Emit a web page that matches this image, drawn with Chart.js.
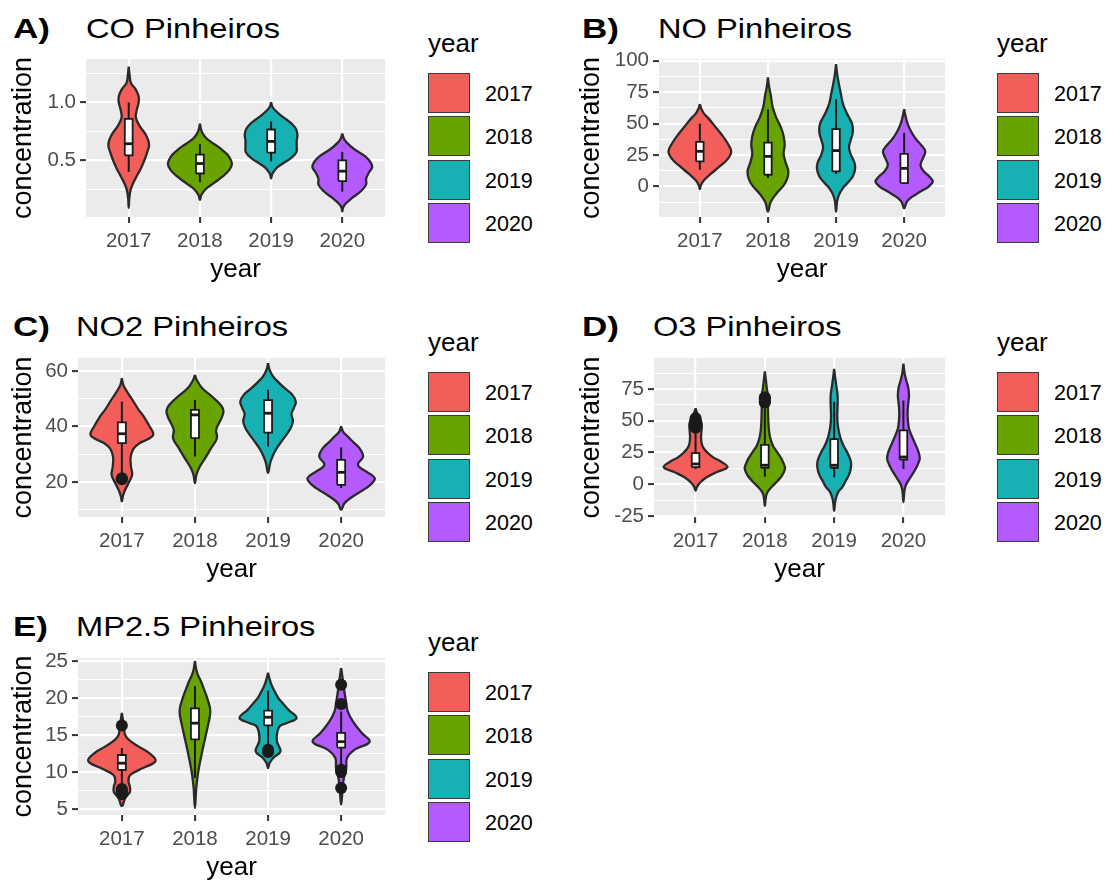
<!DOCTYPE html>
<html>
<head>
<meta charset="utf-8">
<title>Pinheiros violin plots</title>
<script src="https://cdn.jsdelivr.net/npm/chart.js@4.4.1/dist/chart.umd.min.js"></script>
<style>
html,body{margin:0;padding:0;background:#fff;}
body{width:1105px;height:881px;position:relative;overflow:hidden;font-family:"Liberation Sans",Arial,Helvetica,sans-serif;color:#000;}
canvas{position:absolute;}
.txt{position:absolute;white-space:nowrap;line-height:1;}
.tag{font-weight:bold;font-size:28px;transform:scaleX(1.25);transform-origin:0 0;}
.ttl{font-size:28px;transform:scaleX(1.165);transform-origin:0 0;}
.lgt{font-size:26px;}
.lgl{font-size:21.5px;}
.key{position:absolute;width:42px;height:40px;box-sizing:border-box;border:1.5px solid #3a3a3a;}
</style>
</head>
<body>
<script>
// ---------------- categories & palette ----------------
const years = ['2017', '2018', '2019', '2020'];
const yearColors = ['#F35E5A', '#69A300', '#17B1B4', '#B45BFF'];

// ---------------- A) CO ----------------
// violin profiles: [value, half-width in category units], top tip -> bottom tip
const coViolin2017 = [[1.31,0],[1.24,0.012],[1.17,0.03],[1.11,0.10],[1.05,0.14],[1.0,0.14],[0.94,0.115],[0.87,0.10],[0.80,0.15],[0.72,0.24],[0.64,0.286],[0.57,0.26],[0.50,0.22],[0.43,0.17],[0.36,0.11],[0.30,0.06],[0.24,0.025],[0.17,0.008],[0.09,0]];
const coViolin2018 = [[0.815,0],[0.77,0.015],[0.73,0.04],[0.69,0.09],[0.657,0.16],[0.62,0.25],[0.586,0.32],[0.53,0.41],[0.47,0.45],[0.415,0.41],[0.36,0.32],[0.30,0.19],[0.25,0.08],[0.20,0.02],[0.158,0]];
const coViolin2019 = [[1.0,0],[0.96,0.02],[0.93,0.06],[0.886,0.14],[0.85,0.22],[0.815,0.29],[0.77,0.35],[0.72,0.37],[0.67,0.36],[0.62,0.36],[0.57,0.355],[0.515,0.27],[0.47,0.16],[0.44,0.09],[0.41,0.045],[0.38,0.015],[0.343,0]];
const coViolin2020 = [[0.73,0],[0.69,0.02],[0.657,0.056],[0.60,0.16],[0.53,0.33],[0.48,0.40],[0.44,0.42],[0.39,0.37],[0.34,0.335],[0.29,0.335],[0.23,0.256],[0.17,0.13],[0.12,0.04],[0.09,0.01],[0.058,0]];
// boxes: [lower whisker, Q1, median, Q3, upper whisker]
const coBoxes = [[0.40,0.543,0.643,0.857,1.0],[0.31,0.386,0.472,0.549,0.64],[0.49,0.566,0.663,0.766,0.835],[0.229,0.32,0.406,0.50,0.572]];
const coOutliers = [[],[],[],[]];
const coTicks = [0.5, 1.0];
const coTickLabels = ['0.5', '1.0'];

// ---------------- B) NO ----------------
const noViolin2017 = [[65.5,0],[62,0.02],[58,0.06],[54,0.13],[48,0.22],[42,0.31],[35,0.40],[28,0.46],[22,0.41],[16,0.29],[10,0.16],[5,0.06],[1,0.015],[-2,0]];
const noViolin2018 = [[86.7,0],[80,0.015],[73,0.04],[63,0.07],[55,0.12],[47,0.19],[40,0.23],[33,0.245],[26,0.23],[19,0.26],[12,0.30],[6,0.28],[1,0.23],[-4,0.15],[-8,0.09],[-13,0.035],[-20,0]];
const noViolin2019 = [[97.4,0],[90,0.015],[82,0.04],[74,0.07],[66,0.10],[58,0.16],[50,0.235],[43,0.245],[36,0.21],[31,0.19],[25,0.22],[19,0.27],[14,0.28],[8,0.245],[3,0.17],[-2,0.09],[-7,0.04],[-12,0.015],[-20,0]];
const noViolin2020 = [[61.4,0],[56,0.02],[50,0.05],[44,0.1],[38,0.17],[33,0.25],[28,0.31],[23,0.28],[17,0.24],[12,0.29],[8,0.37],[4,0.42],[0,0.36],[-4,0.24],[-8,0.12],[-12,0.04],[-17.3,0]];
const noBoxes = [[13.4,20,28,35.5,50],[6.7,9.4,24,35,61.4],[10,12,28.6,45.6,69.4],[2.5,2.8,14.5,26,42.7]];
const noOutliers = [[],[],[],[]];
const noTicks = [0, 25, 50, 75, 100];
const noTickLabels = ['0', '25', '50', '75', '100'];

// ---------------- C) NO2 ----------------
const no2Violin2017 = [[57.4,0],[55,0.02],[52.6,0.07],[49,0.16],[46,0.23],[43.6,0.30],[40,0.38],[37.2,0.43],[35.5,0.36],[34,0.24],[32,0.16],[29,0.12],[25.5,0.125],[22.6,0.14],[19.6,0.09],[17.2,0.045],[15,0.015],[13,0]];
const no2Violin2018 = [[58.6,0],[56.5,0.03],[53.8,0.10],[50.2,0.26],[47.5,0.36],[45.5,0.39],[43.5,0.37],[41.8,0.34],[38.8,0.29],[35.8,0.30],[32.2,0.22],[28.6,0.14],[25,0.055],[22.6,0.02],[19.6,0]];
const no2Violin2019 = [[62.8,0],[60.5,0.02],[58,0.07],[56,0.14],[54,0.22],[51.5,0.33],[49,0.38],[46.5,0.35],[44.5,0.32],[42,0.34],[39.5,0.31],[37,0.25],[34.5,0.18],[32,0.115],[29.5,0.065],[27,0.03],[23.2,0]];
const no2Violin2020 = [[40,0],[38,0.03],[36.4,0.09],[34,0.18],[32.2,0.25],[29.2,0.30],[26.2,0.23],[23.5,0.36],[21.4,0.46],[19.5,0.42],[17.8,0.34],[14.8,0.16],[12.4,0.046],[10,0]];
const no2Boxes = [[23,34,37.4,41.5,49],[29.2,35.8,44.2,46,49.6],[32.8,37.8,44.8,49.5,53.3],[17.8,19,23.5,28,32.5]];
const no2Outliers = [[21.0,21.4],[],[],[]];
const no2Ticks = [20, 40, 60];
const no2TickLabels = ['20', '40', '60'];

// ---------------- D) O3 ----------------
const o3Violin2017 = [[59.8,0],[55,0.03],[51,0.07],[47,0.09],[42,0.085],[36,0.08],[30,0.10],[25,0.17],[21,0.26],[17.4,0.38],[13.5,0.46],[9.5,0.30],[5.5,0.16],[1.6,0.07],[-2,0.02],[-5,0]];
const o3Violin2018 = [[88.9,0],[82,0.015],[75,0.03],[68,0.05],[60,0.045],[50,0.05],[42,0.06],[36,0.08],[30,0.12],[26,0.17],[20,0.24],[15,0.28],[12,0.29],[7,0.25],[3,0.19],[-2,0.10],[-6,0.04],[-10,0.015],[-17,0]];
const o3Violin2019 = [[91,0],[84,0.015],[78,0.03],[70,0.05],[62,0.05],[55,0.045],[48,0.05],[41,0.07],[35,0.10],[30,0.14],[25,0.19],[20,0.23],[16,0.245],[11,0.235],[7,0.21],[2,0.16],[-2,0.12],[-6,0.06],[-11,0.025],[-16,0.01],[-21,0]];
const o3Violin2020 = [[95,0],[88,0.015],[82,0.04],[76,0.07],[70,0.08],[64,0.07],[57,0.06],[50,0.065],[44,0.08],[38,0.12],[33,0.16],[28,0.20],[24,0.225],[20,0.235],[16,0.21],[12,0.175],[8,0.13],[4,0.085],[0,0.04],[-5,0.015],[-14,0]];
const o3Boxes = [[12,13.5,16,24.5,44],[6,13,15,31,64],[5.5,13,15,35.5,65],[12,19.5,21.5,42.5,66]];
const o3Outliers = [[44.5,45.5,46.5,47.5,48.5,50,52],[64.5,65.5,66.5,67.5,68.5],[],[]];
const o3Ticks = [-25, 0, 25, 50, 75];
const o3TickLabels = ['-25', '0', '25', '50', '75'];

// ---------------- E) MP2.5 ----------------
const mpViolin2017 = [[18,0],[17,0.015],[16,0.03],[15,0.045],[14.3,0.10],[13.5,0.22],[12.6,0.37],[11.5,0.46],[10.5,0.28],[9.6,0.115],[8.8,0.09],[8.0,0.11],[7.3,0.11],[6.6,0.05],[5.4,0]];
const mpViolin2018 = [[25,0],[24,0.015],[23.2,0.037],[22.3,0.08],[21.4,0.115],[19.6,0.18],[18.2,0.21],[16.4,0.18],[14.6,0.14],[12.35,0.09],[10.1,0.046],[7.85,0.018],[5.15,0]];
const mpViolin2019 = [[23.4,0],[22.6,0.02],[21.8,0.046],[20.9,0.09],[20,0.14],[19.2,0.21],[18.4,0.28],[17.3,0.39],[16.6,0.25],[16.2,0.16],[15.3,0.125],[14.15,0.12],[12.8,0.17],[11.9,0.07],[11.2,0.02],[10.55,0]];
const mpViolin2020 = [[24.05,0],[22,0.03],[20.5,0.05],[19.3,0.07],[18.2,0.09],[16.85,0.16],[15.3,0.28],[14.1,0.39],[13,0.18],[11.9,0.08],[10.55,0.07],[9.2,0.037],[7.85,0.02],[5.6,0]];
const mpBoxes = [[8.3,10.3,11.2,12.3,13.25],[9.2,14.4,16.6,18.6,21.6],[13.3,16.3,17.4,18.3,21.0],[10.6,13.3,14.1,15.3,18.2]];
const mpOutliers = [[16.3,7.0,7.4,7.7],[],[12.7,13.0],[21.8,19.2,10.0,10.3,7.85]];
const mpTicks = [5, 10, 15, 20, 25];
const mpTickLabels = ['5', '10', '15', '20', '25'];

// ---------------- panel setup (layout only) ----------------
const panels = [
  {tag:'A)', title:'CO Pinheiros', violins:[coViolin2017,coViolin2018,coViolin2019,coViolin2020], boxes:coBoxes, outliers:coOutliers, ticks:coTicks, tickLabels:coTickLabels, yMin:0.01, yMax:1.375,
   L:{left:0, top:50, width:400, height:237, axisW:86, padTop:9, padRight:15, tagLeft:13, titleLeft:85.5, baseline:38.3, legLeft:428, legDy:0}},
  {tag:'B)', title:'NO Pinheiros', violins:[noViolin2017,noViolin2018,noViolin2019,noViolin2020], boxes:noBoxes, outliers:noOutliers, ticks:noTicks, tickLabels:noTickLabels, yMin:-24.2, yMax:101.4,
   L:{left:568, top:50, width:392, height:237, axisW:91, padTop:9, padRight:15, tagLeft:582, titleLeft:657.5, baseline:38.3, legLeft:997, legDy:0}},
  {tag:'C)', title:'NO2 Pinheiros', violins:[no2Violin2017,no2Violin2018,no2Violin2019,no2Violin2020], boxes:no2Boxes, outliers:no2Outliers, ticks:no2Ticks, tickLabels:no2TickLabels, yMin:7.4, yMax:64.7,
   L:{left:0, top:350, width:400, height:237, axisW:78, padTop:8, padRight:15, tagLeft:13, titleLeft:76, baseline:336.7, legLeft:428, legDy:299}},
  {tag:'D)', title:'O3 Pinheiros', violins:[o3Violin2017,o3Violin2018,o3Violin2019,o3Violin2020], boxes:o3Boxes, outliers:o3Outliers, ticks:o3Ticks, tickLabels:o3TickLabels, yMin:-25.8, yMax:99.5,
   L:{left:568, top:350, width:392, height:237, axisW:86, padTop:8, padRight:15, tagLeft:582, titleLeft:653, baseline:336.7, legLeft:997, legDy:299}},
  {tag:'E)', title:'MP2.5 Pinheiros', violins:[mpViolin2017,mpViolin2018,mpViolin2019,mpViolin2020], boxes:mpBoxes, outliers:mpOutliers, ticks:mpTicks, tickLabels:mpTickLabels, yMin:4.2, yMax:25.4,
   L:{left:0, top:650, width:400, height:235, axisW:78, padTop:8, padRight:15, tagLeft:13, titleLeft:76, baseline:636.7, legLeft:428, legDy:599}}
];

const FONT = '"Liberation Sans", Arial, Helvetica, sans-serif';
Chart.defaults.font.family = FONT;
const ASC = 0.8465; // baseline offset for line-height:1

const panelBg = {
  id: 'panelBg',
  beforeDraw(chart) {
    const a = chart.chartArea, ctx = chart.ctx;
    ctx.save();
    ctx.fillStyle = '#EBEBEB';
    ctx.fillRect(a.left, a.top, a.right - a.left, a.bottom - a.top);
    ctx.restore();
  }
};

function addText(cls, text, left, baseline, size) {
  const d = document.createElement('div');
  d.className = 'txt ' + cls;
  d.textContent = text;
  d.style.left = left + 'px';
  d.style.top = (baseline - ASC * size) + 'px';
  document.body.appendChild(d);
  return d;
}

function minorBreaks(ticks, min, max) {
  const step = ticks[1] - ticks[0];
  const out = [];
  for (let k = -1; k < ticks.length; k++) {
    const v = ticks[0] + (k + 0.5) * step;
    if (v > min && v < max) out.push(v);
  }
  return out;
}

function buildPanel(p) {
  const L = p.L;
  // titles
  addText('tag', p.tag, L.tagLeft, L.baseline, 28);
  addText('ttl', p.title, L.titleLeft, L.baseline, 28);
  // legend
  addText('lgt', 'year', L.legLeft, 51.8 + L.legDy, 26);
  years.forEach((yr, i) => {
    const k = document.createElement('div');
    k.className = 'key';
    k.style.left = L.legLeft + 'px';
    k.style.top = (72.7 + L.legDy + i * 43.5) + 'px';
    k.style.background = yearColors[i];
    document.body.appendChild(k);
    addText('lgl', yr, L.legLeft + 57, 101.7 + L.legDy + i * 43.5, 21.5);
  });

  // canvas
  const cv = document.createElement('canvas');
  cv.width = L.width; cv.height = L.height;
  cv.style.left = L.left + 'px'; cv.style.top = L.top + 'px';
  cv.style.width = L.width + 'px'; cv.style.height = L.height + 'px';
  document.body.appendChild(cv);

  const datasets = [];
  const boxHalf = 0.055;
  p.violins.forEach((prof, i) => {
    const c = i + 1;
    const right = prof.map(([v, w]) => ({x: c + w, y: v}));
    const left = prof.slice(0, -1).reverse().map(([v, w]) => ({x: c - w, y: v}));
    datasets.push({label: years[i], data: right.concat(left), showLine: true, fill: 'shape',
      backgroundColor: yearColors[i], borderColor: '#2a2a2a', borderWidth: 2.3,
      pointRadius: 0, pointHoverRadius: 0, tension: 0.4, order: 10});
  });
  p.boxes.forEach((b, i) => {
    const c = i + 1;
    const [lo, q1, med, q3, hi] = b;
    datasets.push({data: [{x: c, y: lo}, {x: c, y: hi}], showLine: true, borderColor: '#1a1a1a',
      borderWidth: 2, pointRadius: 0, pointHoverRadius: 0, order: 8});
    datasets.push({data: [{x: c - boxHalf, y: q1}, {x: c + boxHalf, y: q1}, {x: c + boxHalf, y: q3}, {x: c - boxHalf, y: q3}, {x: c - boxHalf, y: q1}],
      showLine: true, fill: 'shape', backgroundColor: '#FFFFFF', borderColor: '#1a1a1a', borderWidth: 1.8,
      pointRadius: 0, pointHoverRadius: 0, tension: 0, order: 6});
    datasets.push({data: [{x: c - boxHalf, y: med}, {x: c + boxHalf, y: med}], showLine: true,
      borderColor: '#1a1a1a', borderWidth: 2.8, pointRadius: 0, pointHoverRadius: 0, order: 4});
  });
  p.outliers.forEach((arr, i) => {
    if (!arr.length) return;
    datasets.push({data: arr.map(v => ({x: i + 1, y: v})), showLine: false, pointRadius: 6,
      pointBackgroundColor: '#1a1a1a', pointBorderWidth: 0, order: 2});
  });

  const major = new Set(p.ticks);
  const allY = minorBreaks(p.ticks, p.yMin, p.yMax).concat(p.ticks).sort((a, b) => a - b);
  const isMajor = c => !!(c.tick && major.has(c.tick.value));

  new Chart(cv, {
    type: 'scatter',
    data: {datasets},
    plugins: [panelBg],
    options: {
      responsive: false, animation: false, devicePixelRatio: 1, events: [],
      layout: {padding: {left: 0, top: L.padTop, right: L.padRight, bottom: 0}},
      plugins: {legend: {display: false}, tooltip: {enabled: false}, title: {display: false}},
      scales: {
        x: {
          type: 'linear', min: 0.4, max: 4.6, bounds: 'data',
          afterBuildTicks: s => { s.ticks = years.map((_, i) => ({value: i + 1})); },
          afterFit: s => { s.height = 70; s.paddingLeft = 0; s.paddingRight = 0; },
          ticks: {autoSkip: false, maxRotation: 0, minRotation: 0, padding: 6, color: '#4D4D4D',
            font: {size: 20.5}, callback: v => years[Math.round(v) - 1] || ''},
          grid: {color: '#FFFFFF', lineWidth: 2.2, drawTicks: true, tickLength: 6, tickColor: '#333333', tickWidth: 2},
          border: {display: false},
          title: {display: true, text: 'year', color: '#000', font: {size: 26}, padding: {top: 0, bottom: 2}}
        },
        y: {
          type: 'linear', min: p.yMin, max: p.yMax, bounds: 'data',
          afterBuildTicks: s => { s.ticks = allY.map(v => ({value: v})); },
          afterFit: s => { s.width = L.axisW; s.paddingTop = 0; s.paddingBottom = 0; },
          ticks: {autoSkip: false, padding: 4, color: '#4D4D4D', font: {size: 20.5},
            callback: v => { const k = p.ticks.indexOf(v); return k >= 0 ? p.tickLabels[k] : ''; }},
          grid: {color: '#FFFFFF', lineWidth: c => isMajor(c) ? 2.2 : 1.1, drawTicks: true, tickLength: 6,
            tickColor: c => isMajor(c) ? '#333333' : 'rgba(0,0,0,0)', tickWidth: c => isMajor(c) ? 2 : 0},
          border: {display: false},
          title: {display: true, text: 'concentration', color: '#000', font: {size: 27}, padding: {top: 7, bottom: 0}}
        }
      }
    }
  });
}

panels.forEach(buildPanel);
</script>
</body>
</html>
